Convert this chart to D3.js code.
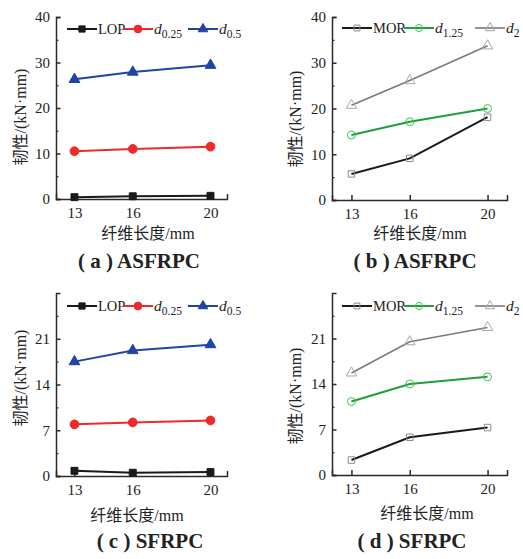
<!DOCTYPE html>
<html><head><meta charset="utf-8">
<script src="https://cdn.jsdelivr.net/npm/d3@7"></script>
<style>
html,body{margin:0;padding:0;background:#fff;}
svg{display:block;}
</style></head>
<body>
<svg id="chart" width="523" height="559"></svg>
<script>
// ---------- data ----------
const categories = [13, 16, 20];
const xTickLabels = ["13", "16", "20"];
const yTicksAB = [0, 10, 20, 30, 40];
const yTicksCD = [0, 7, 14, 21];

const lopA  = [0.4, 0.6, 0.7];
const d025A = [10.5, 11.0, 11.5];
const d05A  = [26.3, 27.9, 29.4];

const morB  = [5.7, 9.1, 18.1];
const d125B = [14.2, 17.1, 20.0];
const d2B   = [20.7, 26.1, 33.7];

const lopC  = [0.8, 0.5, 0.6];
const d025C = [7.9, 8.2, 8.5];
const d05C  = [17.5, 19.2, 20.1];

const morD  = [2.3, 5.8, 7.3];
const d125D = [11.3, 14.0, 15.1];
const d2D   = [15.7, 20.5, 22.7];

const seriesNamesAC = [{t:"LOP"}, {t:"d", sub:"0.25"}, {t:"d", sub:"0.5"}];
const seriesNamesBD = [{t:"MOR"}, {t:"d", sub:"1.25"}, {t:"d", sub:"2"}];
const panelLetters = ["a", "b", "c", "d"];
const panelNames = ["ASFRPC", "ASFRPC", "SFRPC", "SFRPC"];
const xTitle = "纤维长度/mm";
const yTitle = "韧性/(kN·mm)";

// ---------- styles ----------
const stylesAC = [
  {line:"#1a1a1a", lw:2, sym:d3.symbolSquare, size:48, fill:"#1a1a1a", stroke:"#1a1a1a"},
  {line:"#ee2a2a", lw:2, sym:d3.symbolCircle, size:60, fill:"#ee2a2a", stroke:"#ee2a2a"},
  {line:"#1f44a6", lw:2, sym:d3.symbolTriangle, size:50, fill:"#1f44a6", stroke:"#1f44a6"}
];
const stylesBD = [
  {line:"#1a1a1a", lw:2, sym:d3.symbolSquare, size:42, fill:"none", stroke:"#8a8a8a"},
  {line:"#1f9e3a", lw:2, sym:d3.symbolCircle, size:50, fill:"none", stroke:"#3dc452"},
  {line:"#7a7a7a", lw:1.6, sym:d3.symbolTriangle, size:48, fill:"none", stroke:"#a8a8a8"}
];

// ---------- layout ----------
const panels = [
  {x:[56,227], xd:[12.05,20.85], y:[199,17], ymax:40, yt:yTicksAB, series:[lopA,d025A,d05A], names:seriesNamesAC, st:stylesAC,
   legX:[67,123,188], legY:29, yT:[20,117], xT:[148,233], cap:[139,261]},
  {x:[332,507], xd:[12,21], y:[200,17], ymax:40, yt:yTicksAB, series:[morB,d125B,d2B], names:seriesNamesBD, st:stylesBD,
   legX:[342,404,475], legY:28, yT:[295,119], xT:[420,233], cap:[415,261]},
  {x:[56,227], xd:[12.05,20.85], y:[476,293], ymax:28, yt:yTicksCD, series:[lopC,d025C,d05C], names:seriesNamesAC, st:stylesAC,
   legX:[67,123,188], legY:306, yT:[20,378], xT:[137,515], cap:[150,541]},
  {x:[332,507], xd:[12,21], y:[475,293], ymax:28, yt:yTicksCD, series:[morD,d125D,d2D], names:seriesNamesBD, st:stylesBD,
   legX:[342,404,475], legY:306, yT:[295,396], xT:[427,513], cap:[412,541]}
];

const svg = d3.select("#chart");
const serif = "'Liberation Serif','Times New Roman',serif";
const cjk = "'Liberation Serif','Noto Sans CJK SC',serif";
const axisColor = "#2a2a2a";

panels.forEach((p, i) => {
  const g = svg.append("g");
  const x = d3.scaleLinear().domain(p.xd).range(p.x);
  const y = d3.scaleLinear().domain([0, p.ymax]).range(p.y);

  // minor y ticks
  const step = p.yt[1] - p.yt[0];
  const minor = d3.range(step/2, p.ymax, step);
  g.append("g").attr("transform", `translate(${p.x[0]},0)`)
    .call(d3.axisLeft(y).tickValues(minor).tickSizeInner(-2.5).tickSizeOuter(0).tickFormat(""))
    .call(a => a.select(".domain").remove())
    .call(a => a.selectAll("line").attr("stroke", axisColor).attr("stroke-width", 1.2));

  // y axis
  g.append("g").attr("transform", `translate(${p.x[0]},0)`)
    .call(d3.axisLeft(y).tickValues(p.yt).tickSizeInner(-4.5).tickSizeOuter(-4.5).tickPadding(6).tickFormat(d3.format("d")))
    .call(a => a.selectAll("path,line").attr("stroke", axisColor).attr("stroke-width", 1.5))
    .call(a => a.selectAll("text").attr("font-family", serif).attr("font-size", 15).attr("fill", "#222"));

  // x axis
  g.append("g").attr("transform", `translate(0,${p.y[0]})`)
    .call(d3.axisBottom(x).tickValues(categories).tickSizeInner(-5).tickSizeOuter(-5).tickPadding(8)
      .tickFormat((d, k) => xTickLabels[k]))
    .call(a => a.selectAll("path,line").attr("stroke", axisColor).attr("stroke-width", 1.5))
    .call(a => a.selectAll("text").attr("font-family", serif).attr("font-size", 15).attr("fill", "#222"));

  // series lines and markers
  p.series.forEach((vals, s) => {
    const st = p.st[s];
    const pts = vals.map((v, k) => [x(categories[k]), y(v)]);
    g.append("path").attr("d", d3.line()(pts)).attr("fill", "none")
      .attr("stroke", st.line).attr("stroke-width", st.lw);
    g.selectAll(null).data(pts).enter().append("path")
      .attr("transform", d => `translate(${d[0]},${d[1]})`)
      .attr("d", d3.symbol().type(st.sym).size(st.size))
      .attr("fill", st.fill).attr("stroke", st.stroke).attr("stroke-width", 1);
  });

  // legend
  p.names.forEach((n, s) => {
    const st = p.st[s];
    const lx = p.legX[s], ly = p.legY;
    g.append("line").attr("x1", lx).attr("x2", lx + 30).attr("y1", ly).attr("y2", ly)
      .attr("stroke", st.line).attr("stroke-width", st.lw);
    g.append("path").attr("transform", `translate(${lx + 15},${ly})`)
      .attr("d", d3.symbol().type(st.sym).size(st.size * 0.8))
      .attr("fill", st.fill).attr("stroke", st.stroke).attr("stroke-width", 1);
    const t = g.append("text").attr("x", lx + 31).attr("y", ly + 5)
      .attr("font-family", serif).attr("font-size", 14.5).attr("fill", "#222");
    if (n.sub) {
      t.append("tspan").attr("font-style", "italic").attr("font-size", 15.5).text(n.t);
      t.append("tspan").attr("font-size", 11.5).attr("dy", 4).text(n.sub);
    } else {
      t.text(n.t);
    }
  });

  // y title
  g.append("text")
    .attr("transform", `translate(${p.yT[0]},${p.yT[1]}) rotate(-90)`)
    .attr("text-anchor", "middle").attr("dominant-baseline", "central")
    .attr("font-family", cjk).attr("font-size", 16).attr("fill", "#222")
    .text(yTitle);

  // x title
  g.append("text").attr("x", p.xT[0]).attr("y", p.xT[1])
    .attr("text-anchor", "middle").attr("dominant-baseline", "central")
    .attr("font-family", cjk).attr("font-size", 16).attr("fill", "#222")
    .text(xTitle);

  // caption
  g.append("text").attr("x", p.cap[0]).attr("y", p.cap[1])
    .attr("text-anchor", "middle").attr("dominant-baseline", "central")
    .attr("font-family", serif).attr("font-size", 21).attr("font-weight", "bold").attr("fill", "#222")
    .attr("xml:space", "preserve")
    .text(`( ${panelLetters[i]} ) ${panelNames[i]}`);
});
</script>
</body></html>
